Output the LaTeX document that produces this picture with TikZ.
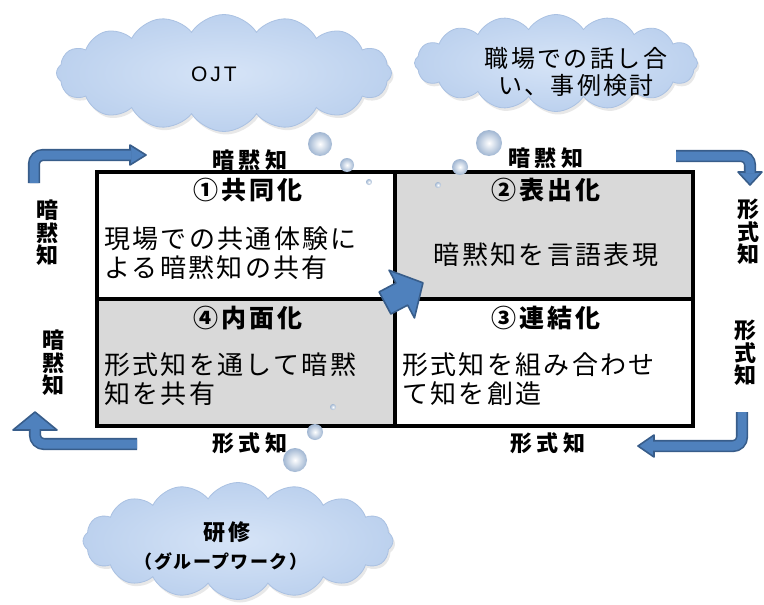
\documentclass[tikz,border=0pt]{standalone}
\usepackage{fontspec}
\newfontfamily\jp{Noto Sans CJK JP}
\newfontfamily\latin{Liberation Sans}
\usetikzlibrary{shapes.symbols, shadows}

\definecolor{cloudblue}{RGB}{188,209,238}
\definecolor{cloudin}{RGB}{214,228,247}
\definecolor{cloudedge}{RGB}{170,193,226}
\definecolor{bubbleedge}{RGB}{160,182,210}
\definecolor{arrowfill}{RGB}{79,129,189}
\definecolor{arrowline}{RGB}{56,93,138}
\definecolor{quadgray}{RGB}{217,217,217}

\tikzset{
  quad/.style={draw, line width=3.5pt, minimum width=298pt, minimum height=127pt, inner sep=0pt},
  quadtitle/.style={font=\jp\bfseries\fontsize{25}{28}\selectfont\addfontfeature{LetterSpace=12}, inner sep=0pt},
  body/.style={font=\jp\fontsize{26}{29.5}\selectfont\addfontfeature{LetterSpace=9}, align=left, inner sep=0pt},
  sidetext/.style={font=\jp\bfseries\fontsize{22}{24}\selectfont\addfontfeature{LetterSpace=20}, inner sep=0pt},
  vert/.style={font=\jp\bfseries\fontsize{22}{22.5}\selectfont, align=center, inner sep=0pt},
  puff/.style={cloud, cloud puffs=16, cloud puff arc=115, cloud ignores aspect, inner sep=0pt,
    inner color=cloudin, outer color=cloudblue, draw=cloudedge, line width=0.8pt,
    drop shadow={opacity=0.18, shadow xshift=2pt, shadow yshift=-3pt}},
  arrowshaft/.style={draw=arrowline, line width=1.6pt, double=arrowfill, double distance=9pt, rounded corners=9pt},
  arrowtip/.style={fill=arrowfill, draw=arrowline, line width=1.6pt, line join=round}
}

\begin{document}
\begin{tikzpicture}[x=1pt, y=-1pt]
    \path[use as bounding box, fill=white] (0,0) rectangle (764,605);

    % Quadrants
    \node[quad, fill=white] (q1) at (246,235.5) {};
    \node[quad, fill=quadgray] (q2) at (544,235.5) {};
    \node[quad, fill=white] (q3) at (544,362.5) {};
    \node[quad, fill=quadgray] (q4) at (246,362.5) {};

    % Titles
    \node[quadtitle] (t1) at (248,190) {①共同化};
    \node[quadtitle] (t2) at (546,190) {②表出化};
    \node[quadtitle] (t3) at (546,318) {③連結化};
    \node[quadtitle] (t4) at (248,318) {④内面化};

    % Texts in the quadrants
    \node[body, anchor=west] (b1) at (104,253) {現場での共通体験に\\よる暗黙知の共有};
    \node[body] (b2) at (546,255) {暗黙知を言語表現};
    \node[body, anchor=west] (b3) at (402,379) {形式知を組み合わせ\\て知を創造};
    \node[body, anchor=west] (b4) at (104,379) {形式知を通して暗黙\\知を共有};

    % Labels round the box
    \node[sidetext] (s1) at (250,160) {暗黙知};
    \node[sidetext] (s2) at (546,158) {暗黙知};
    \node[sidetext] (s3) at (250,443) {形式知};
    \node[sidetext] (s4) at (548,443) {形式知};
    \node[vert] (v1) at (47,233) {暗\\黙\\知};
    \node[vert] (v2) at (53,363) {暗\\黙\\知};
    \node[vert] (v3) at (748,232) {形\\式\\知};
    \node[vert] (v4) at (745,353) {形\\式\\知};

    % Clouds
    \node[puff, minimum width=335pt, minimum height=117pt] (c1) at (224,73) {};
    \node[puff, minimum width=283pt, minimum height=97pt] (c2) at (556,63) {};
    \node[puff, minimum width=310pt, minimum height=117pt] (c3) at (238,541) {};
    \node[font=\latin\fontsize{21}{24}\selectfont\addfontfeature{LetterSpace=14}, inner sep=0pt] (ojt) at (214,74) {OJT};
    \node[font=\jp\fontsize{24}{27}\selectfont\addfontfeature{LetterSpace=10}, align=center, inner sep=0pt] (talk) at (576,71.5) {職場での話し合\\い、事例検討};
    \node[font=\jp\bfseries\fontsize{22}{24}\selectfont\addfontfeature{LetterSpace=18}, inner sep=0pt] (kenshu) at (227,532) {研修};
    \node[font=\jp\bfseries\fontsize{18}{20}\selectfont\addfontfeature{LetterSpace=8}, inner sep=0pt] (group) at (221,562) {（グループワーク）};

    % Bubbles
    \foreach \x/\y/\r in {320/144/12, 347/165/7, 369/182/3, 489/143/13, 460/167/8, 438/185/3, 295/460/12, 315/432/8, 333/407/3}
    {
        \shade[inner color=white, outer color=bubbleedge] (\x,\y) circle (\r pt);
    }

    % Bent arrows round the box
    \draw[arrowtip] (130,145) -- (146,155) -- (130,165) -- cycle;
    \draw[arrowshaft] (34,183) -- (34,155) -- (131,155);
    \draw[arrowtip] (738,172) -- (762,172) -- (750,185) -- cycle;
    \draw[arrowshaft] (676,156) -- (750,156) -- (750,173);
    \draw[arrowtip] (654,435) -- (638,446) -- (654,457) -- cycle;
    \draw[arrowshaft] (742,412) -- (742,446) -- (653,446);
    \draw[arrowtip] (13,430) -- (35,412) -- (57,430) -- cycle;
    \draw[arrowshaft] (137,444) -- (35,444) -- (35,429);

    % Arrow across the middle
    \draw[arrowtip, shift={(385,303)}, rotate=28] (0,-12.5) -- (19,-12.5) -- (19,-27) -- (43,0) -- (19,27) -- (19,12.5) -- (0,12.5) -- cycle;
\end{tikzpicture}
\end{document}
